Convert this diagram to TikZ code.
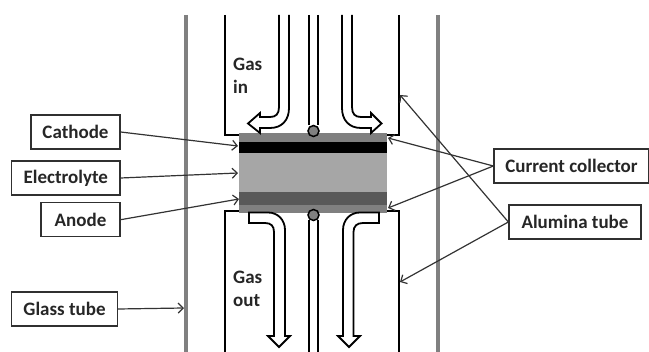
\documentclass[tikz,border=0pt]{standalone}
\usepackage{fontspec}
\setmainfont{Carlito}
\usetikzlibrary{arrows.meta}
\definecolor{midgray}{HTML}{808080}
\definecolor{lightgray}{HTML}{A6A6A6}
\definecolor{darkgray}{HTML}{595959}
\definecolor{boxline}{HTML}{303030}
\tikzset{
    labelbox/.style={draw=boxline, line width=1.3pt, fill=white, inner sep=0pt, font=\bfseries\fontsize{19}{22}\selectfont, text=black!85, minimum height=34pt},
    gaslabel/.style={inner sep=0pt, anchor=north west, align=left, font=\bfseries\fontsize{19}{23}\selectfont, text=black!85},
    pointer/.style={draw=black!80, line width=1.2pt, -{Straight Barb[length=5pt,width=10pt,line width=1.2pt]}},
    gasflow/.style={draw=black, line width=1.8pt, fill=white, line join=miter},
    tubewall/.style={draw=black, line width=2pt}
}

\begin{document}
\begin{tikzpicture}[x=1pt, y=-1pt]
\useasboundingbox (0,0) rectangle (649,352);
% glass tube
\foreach \g in {186,438}
{
    \draw[midgray, line width=3.4pt](\g,15)--(\g,352);
}
% alumina tube
\draw[tubewall](225,15)--(225,135)--(240,135);
\draw[tubewall](399,15)--(399,135)--(386,135);
\draw[tubewall](240,211)--(225,211)--(225,352);
\draw[tubewall](386,211)--(399,211)--(399,352);
% cell layers
\fill[midgray](239,133)rectangle(387,142);
\fill[black](239,142)rectangle(387,153);
\fill[lightgray](239,153)rectangle(387,192);
\fill[darkgray](239,192)rectangle(387,205);
\fill[midgray](239,205)rectangle(387,213);
% gas in
\draw[gasflow](279,15)--(279,107).. controls (279,114) and (276,117) .. (270,117)--(260,117)--(260,113)--(248,123.5)--(260,133)--(260,128)--(270,128).. controls (282,128) and (289,120) .. (289,108)--(289,15);
\draw[gasflow](352,15)--(352,107).. controls (352,114) and (355,117) .. (361,117)--(371,117)--(371,113)--(381.5,123.5)--(371,133)--(371,128)--(361,128).. controls (349,128) and (342,120) .. (342,108)--(342,15);
% gas out
\draw[gasflow](249,212.5)--(268,212.5).. controls (278,212.5) and (285,220) .. (285,230)--(285,336)--(290,336)--(279,347)--(268,336)--(274,336)--(274,232).. controls (274,226) and (271,223) .. (265,223)--(249,223)--cycle;
\draw[gasflow](379,212.5)--(360,212.5).. controls (350,212.5) and (343,220) .. (343,230)--(343,336)--(338,336)--(349,347)--(360,336)--(353.5,336)--(353.5,232).. controls (353.5,226) and (357,223) .. (363,223)--(379,223)--cycle;
% thermocouple
\draw[gasflow, line width=1.5pt](309,15)--(309,125);
\draw[gasflow, line width=1.5pt](318,15)--(318,125);
\draw[gasflow, line width=1.5pt](309,220)--(309,352);
\draw[gasflow, line width=1.5pt](318,220)--(318,352);
\draw[black, line width=1.5pt, fill=midgray](313.5,131)circle(5.5);
\draw[black, line width=1.5pt, fill=midgray](313.5,215)circle(5.5);
\node[gaslabel](gasin) at (233,58){Gas\\in};
\node[gaslabel](gasout) at (233,271){Gas\\out};
% labels
\node[labelbox, minimum width=89pt](cathode) at (75.5,132){Cathode};
\node[labelbox, minimum width=108.5pt](electrolyte) at (65.8,178){Electrolyte};
\node[labelbox, minimum width=79pt](anode) at (80.5,219.7){Anode};
\node[labelbox, minimum width=106pt](glass) at (64.5,309){Glass tube};
\node[labelbox, minimum width=155pt](collector) at (571.5,166){Current collector};
\node[labelbox, minimum width=132pt](alumina) at (575,222){Alumina tube};
% pointer ends
\coordinate (cathodeend) at (238,146);
\coordinate (electrolyteend) at (238,173);
\coordinate (anodeend) at (239,199);
\coordinate (glassend) at (184,308);
\coordinate (collectorup) at (388,138);
\coordinate (collectordown) at (388,208);
\coordinate (aluminaup) at (400,95);
\coordinate (aluminadown) at (400,282);
\draw[pointer](cathode.east)--(cathodeend);
\draw[pointer](electrolyte.east)--(electrolyteend);
\draw[pointer](anode.east)--(anodeend);
\draw[pointer](glass.east)--(glassend);
\draw[pointer](collector.west)--(collectorup);
\draw[pointer](collector.west)--(collectordown);
\draw[pointer](alumina.west)--(aluminaup);
\draw[pointer](alumina.west)--(aluminadown);
\end{tikzpicture}
\end{document}
